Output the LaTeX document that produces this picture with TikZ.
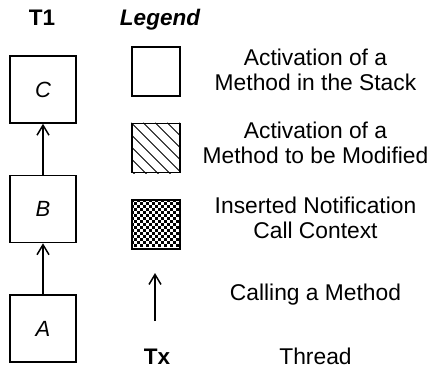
\documentclass[tikz,border=0pt]{standalone}
\usepackage{fontspec}
\setmainfont{Liberation Sans}
\usetikzlibrary{arrows.meta,positioning}
\tikzset{
    frame/.style={draw,line width=1.5pt,minimum width=66pt,minimum height=67pt,inner sep=0pt,font=\fontsize{22}{25}\selectfont\itshape},
    key/.style={draw,line width=1.5pt,minimum width=48pt,minimum height=49pt,inner sep=0pt},
    call/.style={-{Straight Barb[length=10pt,width=12pt]},line width=1.5pt},
    title/.style={anchor=base,inner sep=0pt,font=\fontsize{22.5}{25}\selectfont\bfseries},
    note/.style={anchor=base,align=center,inner sep=0pt,font=\fontsize{22.8}{25}\selectfont}
}

\begin{document}
\begin{tikzpicture}[x=1pt,y=-1pt]
    \useasboundingbox (0,0) rectangle (429,372);

    % thread T1
    \node[title] (t1) at (42,25) {T1};
    \node[frame] (c) at (43,89.5) {C};
    \node[frame] (b) [below=51pt of c] {B};
    \node[frame] (a) [below=51pt of b] {A};
    \draw[call] (a) -- (b);
    \draw[call] (b) -- (c);

    % legend
    \node[title,font=\fontsize{22.5}{25}\selectfont\bfseries\itshape] (legend) at (160,25) {Legend};
    \node[key] (plain) at (156,71.5) {};
    \node[key] (hatched) [below=26pt of plain] {};
    \node[key] (checker) [below=26pt of hatched] {};
    \begin{scope}
        \clip (hatched.south west) rectangle (hatched.north east);
        \foreach \k in {-60,-48,...,60}
            \draw[line width=1pt] ([xshift=\k pt]hatched.north west) -- ++(60,60);
    \end{scope}
    \foreach \j [evaluate=\j as \s using {int(mod(\j,2))}] in {0,...,15}
        \foreach \i in {0,2,...,14}
            \fill ([shift={(3*\i+3*\s,3*\j)}]checker.north west) rectangle ++(3,3);
    \node[key] at (checker) {};
    \coordinate (tail) at (155,321);
    \coordinate (head) at (155,273);
    \draw[call] (tail) -- (head);
    \node[title] (tx) at (157,364) {Tx};

    \node[note] (stack) at (315.5,90) {Activation of a\\Method in the Stack};
    \node[note] (modified) at (315.5,163) {Activation of a\\Method to be Modified};
    \node[note] (inserted) at (315.5,238) {Inserted Notification\\Call Context};
    \node[note] (calling) at (315.5,300) {Calling a Method};
    \node[note] (thread) at (315.5,364) {Thread};
\end{tikzpicture}
\end{document}
